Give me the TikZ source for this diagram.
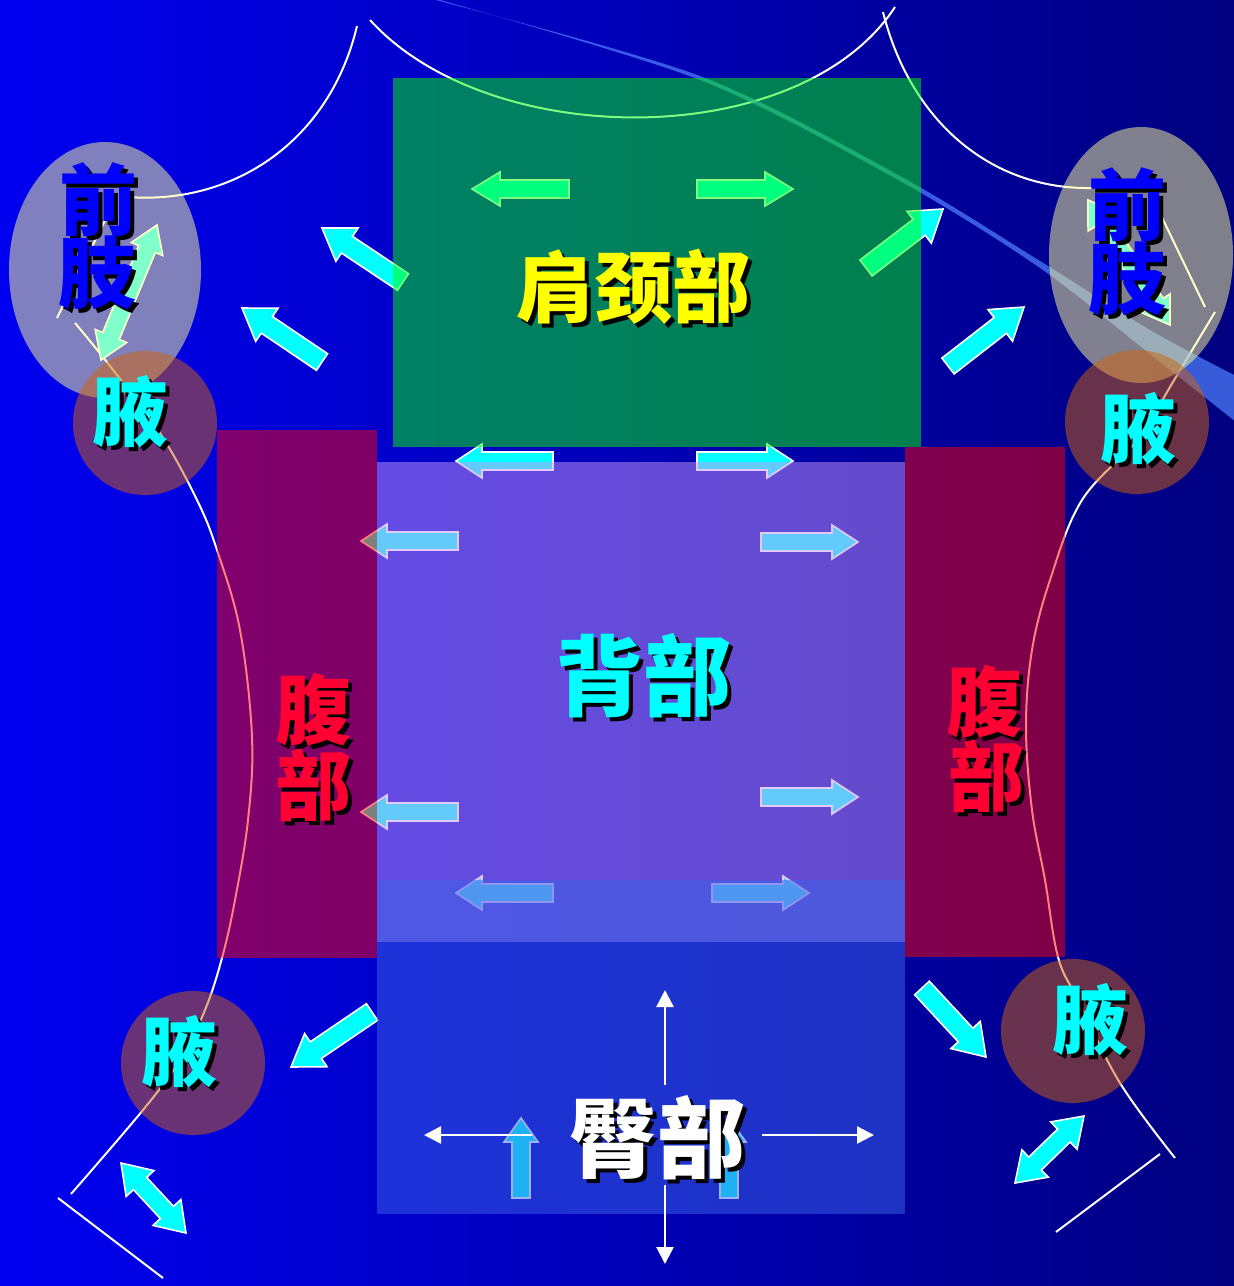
\documentclass[tikz,border=0pt]{standalone}
\usepackage{fontspec}
\newfontfamily\cjk{Noto Sans CJK SC}
\usetikzlibrary{arrows.meta}
\definecolor{bgL}{RGB}{0,0,240}
\definecolor{bgM}{RGB}{0,0,212}
\definecolor{bgR}{RGB}{0,0,128}
\definecolor{arrC}{RGB}{0,255,255}
\definecolor{shoulderC}{RGB}{0,255,0}
\definecolor{backC}{RGB}{200,150,250}
\definecolor{buttC}{RGB}{60,100,232}
\definecolor{bellyC}{RGB}{255,0,0}
\definecolor{limbC}{RGB}{255,255,150}
\definecolor{axC}{RGB}{210,100,10}
\definecolor{wedgeC}{RGB}{80,130,255}
\definecolor{txtRed}{RGB}{255,0,51}
\definecolor{txtBlue}{RGB}{0,0,255}
\definecolor{txtYel}{RGB}{255,255,0}
\definecolor{txtCyan}{RGB}{0,255,255}
\definecolor{txtWhite}{RGB}{255,255,255}
\definecolor{shadowC}{RGB}{0,0,0}
\newcommand\barrow[8]{%
 \pgfmathsetmacro\bdx{#7-#5}%
 \pgfmathsetmacro\bdy{#6-#8}%
 \pgfmathsetmacro\blen{veclen(\bdx,\bdy)}%
 \pgfmathsetmacro\bang{atan2(\bdy,\bdx)}%
 \pgfmathsetmacro\bneck{\blen-#4}%
 \begin{scope}[shift={(#5,#6)},rotate=\bang]
  \filldraw[blk,#1] (0,-#2) -- (\bneck,-#2) -- (\bneck,-#3) -- (\blen,0) -- (\bneck,#3) -- (\bneck,#2) -- (0,#2) -- cycle;
 \end{scope}}
\newcommand\dbarrow[8]{%
 \pgfmathsetmacro\bdx{#7-#5}%
 \pgfmathsetmacro\bdy{#6-#8}%
 \pgfmathsetmacro\blen{veclen(\bdx,\bdy)}%
 \pgfmathsetmacro\bang{atan2(\bdy,\bdx)}%
 \pgfmathsetmacro\bneck{\blen-#4}%
 \begin{scope}[shift={(#5,#6)},rotate=\bang]
  \filldraw[blk,#1] (0,0) -- (#4,#3) -- (#4,#2) -- (\bneck,#2) -- (\bneck,#3) -- (\blen,0) -- (\bneck,-#3) -- (\bneck,-#2) -- (#4,-#2) -- (#4,-#3) -- cycle;
 \end{scope}}
\newcommand\lbl[6]{%
 \node[lbltxt,font=\cjk\bfseries\fontsize{#4}{#4}\selectfont,text=#5] (#1) at (#2,#3)
   {\makebox[0pt][l]{\hspace{4pt}\raisebox{-4pt}[0pt][0pt]{\color{shadowC}#6}}#6};}
\begin{document}
\begin{tikzpicture}[x=1pt,y=-1pt,
  blk/.style={fill=arrC,draw=white,line width=1.6pt,line join=miter},
  wline/.style={draw=white,line width=2pt},
  region/.style={fill opacity=0.5,draw=none},
  lbltxt/.style={inner sep=0pt,outer sep=0pt,anchor=center},
  thinarr/.style={draw=white,line width=2.5pt,-{Triangle[length=17pt,width=17pt]}}]
\useasboundingbox (0,0) rectangle (1234,1286);
% background
\shade[left color=bgL,middle color=bgM,right color=bgR] (0,0) rectangle (1234,1286);
% white outline curves
\draw[wline] (357,26) .. controls (330,140) and (235,205) .. (128,197);
\draw[wline] (370,20) .. controls (490,152) and (800,152) .. (895,7);
\draw[wline] (883,12) .. controls (910,120) and (990,190) .. (1092,188);
\draw[wline] (57,318) -- (116,198);
\draw[wline] (1157,207) -- (1205,307);
\draw[wline] plot[smooth,tension=0.6] coordinates {(75,323) (110,366) (160,433) (197,500) (217,550) (240,630) (252,737) (248,820) (235,900) (222,958) (205,1010) (180,1060) (143,1110) (71,1194)};
\draw[wline] plot[smooth,tension=0.6] coordinates {(1215,312) (1170,387) (1140,437) (1082,500) (1050,580) (1032,650) (1026,727) (1032,810) (1045,880) (1058,957) (1078,1000) (1120,1083) (1175,1158)};
\draw[wline] (58,1198) -- (163,1278);
\draw[wline] (1160,1154) -- (1056,1232);
% translucent blue band
\fill[wedgeC,opacity=0.7] plot[smooth] coordinates {(428,-2) (700,76) (900,176) (1040,261) (1150,330) (1236,376)} -- plot[smooth] coordinates {(1236,422) (1150,354) (1040,268) (900,181) (700,80) (433,-2)} -- cycle;
% block arrows (under translucent regions)
\barrow{}{9}{17}{28}{569}{189}{472}{189}
\barrow{}{9}{17}{28}{697}{189}{793}{189}
\barrow{}{10}{20}{30}{866}{268}{943}{209}
\barrow{}{10}{20}{30}{403}{282}{322}{228}
\barrow{}{10}{20}{30}{322}{362}{242}{308}
\barrow{}{10}{20}{30}{948}{366}{1024}{307}
\barrow{}{9}{17}{26}{553}{461}{456}{461}
\barrow{}{9}{17}{26}{697}{461}{793}{461}
\barrow{}{9}{17}{26}{458}{541}{361}{541}
\barrow{}{9}{17}{26}{761}{542}{858}{542}
\barrow{}{9}{17}{26}{458}{812}{361}{812}
\barrow{}{9}{17}{26}{761}{797}{858}{797}
\barrow{}{9}{17}{26}{553}{893}{456}{893}
\barrow{}{9}{17}{26}{712}{893}{809}{893}
\barrow{}{9}{17}{24}{521}{1198}{521}{1118}
\barrow{}{9}{17}{24}{729}{1198}{729}{1118}
\barrow{}{10}{20}{30}{372}{1012}{291}{1067}
\barrow{}{10}{20}{30}{922}{988}{986}{1057}
\dbarrow{}{9}{19}{28}{121}{1163}{186}{1233}
\dbarrow{}{9}{19}{28}{1015}{1183}{1084}{1116}
\dbarrow{}{9}{17}{26}{101}{360}{157}{225}
\dbarrow{}{9}{17}{26}{1088}{200}{1170}{325}
% translucent body regions
\fill[region,shoulderC] (393,78) rectangle (921,447);
\fill[region,backC] (377,462) rectangle (905,942);
\fill[region,buttC] (377,880) rectangle (905,1214);
\fill[region,bellyC] (217,430) rectangle (377,958);
\fill[region,bellyC] (905,447) rectangle (1065,957);
\fill[region,limbC] (105,270) ellipse [x radius=96pt,y radius=128pt];
\fill[region,limbC] (1141,255) ellipse [x radius=92pt,y radius=128pt];
\fill[region,axC] (145,423) circle [radius=72pt];
\fill[region,axC] (1137,422) circle [radius=72pt];
\fill[region,axC] (193,1063) circle [radius=72pt];
\fill[region,axC] (1073,1031) circle [radius=72pt];
% thin white arrows of the buttock
\coordinate (u0) at (665,1085); \coordinate (u1) at (665,990);
\coordinate (d0) at (665,1185); \coordinate (d1) at (665,1264);
\coordinate (l0) at (532,1135); \coordinate (l1) at (424,1135);
\coordinate (r0) at (762,1135); \coordinate (r1) at (874,1135);
\draw[thinarr] (u0) -- (u1);
\draw[thinarr] (d0) -- (d1);
\draw[thinarr] (l0) -- (l1);
\draw[thinarr] (r0) -- (r1);
% labels
\lbl{sn}{633}{287}{78}{txtYel}{肩颈部}
\lbl{bk}{643}{676}{88}{txtCyan}{背部}
\lbl{bt}{657}{1138}{88}{txtWhite}{臀部}
\lbl{flA}{98}{200}{78}{txtBlue}{前}
\lbl{flB}{97}{273}{78}{txtBlue}{肢}
\lbl{frA}{1127}{205}{78}{txtBlue}{前}
\lbl{frB}{1127}{279}{78}{txtBlue}{肢}
\lbl{ax1}{130}{412}{76}{txtCyan}{腋}
\lbl{ax2}{1138}{429}{76}{txtCyan}{腋}
\lbl{ax3}{179}{1052}{76}{txtCyan}{腋}
\lbl{ax4}{1090}{1020}{76}{txtCyan}{腋}
\lbl{blA}{313}{710}{76}{txtRed}{腹}
\lbl{blB}{313}{785}{76}{txtRed}{部}
\lbl{brA}{984}{702}{76}{txtRed}{腹}
\lbl{brB}{986}{776}{76}{txtRed}{部}
\end{tikzpicture}
\end{document}
